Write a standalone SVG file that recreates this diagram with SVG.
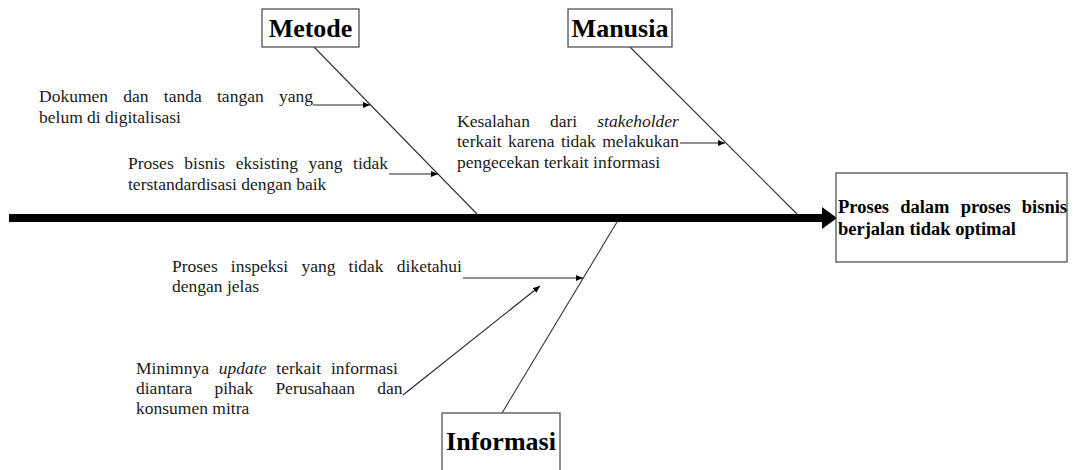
<svg xmlns="http://www.w3.org/2000/svg" width="1073" height="470" viewBox="0 0 1073 470">
<style>
.box{fill:#fff;stroke:#444;stroke-width:1.2}
.cat{font-family:"Liberation Serif",serif;font-weight:bold;font-size:26px;fill:#000}
.eff{font-family:"Liberation Serif",serif;font-weight:bold;font-size:18.5px;fill:#000}
.lbl{font-family:"Liberation Serif",serif;font-size:17.5px;fill:#1a1a1a}
.bone{stroke:#333;stroke-width:1.1;fill:none}
.arr{stroke:#222;stroke-width:1.1;fill:none;marker-end:url(#ah)}
.it{font-style:italic}
</style>
<defs>
<marker id="ah" markerUnits="userSpaceOnUse" markerWidth="8" markerHeight="6" refX="7" refY="3" orient="auto">
<path d="M0,0 L7,3 L0,6 Z" fill="#000"/>
</marker>
</defs>
<g id="connectors">
<rect x="9" y="214" width="814" height="8" fill="#000"/>
<polygon points="822,207 837,218 822,229" fill="#000"/>
<line class="bone" x1="314" y1="47" x2="477" y2="214"/>
<line class="bone" x1="630" y1="47" x2="797" y2="214"/>
<line class="bone" x1="617" y1="222" x2="502" y2="413"/>
<line class="arr" x1="313" y1="105" x2="370" y2="105"/>
<line class="arr" x1="389" y1="174" x2="438" y2="174"/>
<line class="arr" x1="680" y1="143" x2="725" y2="143"/>
<line class="arr" x1="463" y1="278" x2="583" y2="278"/>
<line class="arr" x1="403" y1="395" x2="540" y2="286"/>
</g>
<g id="metode">
<rect class="box" x="262" y="9" width="97" height="38"/>
<text class="cat" x="310.5" y="37" text-anchor="middle">Metode</text>
</g>
<g id="manusia">
<rect class="box" x="568" y="9" width="104" height="38"/>
<text class="cat" x="620" y="37" text-anchor="middle">Manusia</text>
</g>
<g id="informasi">
<rect class="box" x="442" y="413" width="118" height="70"/>
<text class="cat" x="501" y="450" text-anchor="middle">Informasi</text>
</g>
<g id="effect">
<rect class="box" x="836" y="173" width="231" height="89"/>
<text class="eff" x="838" y="213" word-spacing="6.5">Proses dalam proses bisnis</text>
<text class="eff" x="838" y="235">berjalan tidak optimal</text>
</g>
<g id="cause-dokumen">
<text class="lbl" x="39" y="102" word-spacing="10.9">Dokumen dan tanda tangan yang</text>
<text class="lbl" x="39" y="123">belum di digitalisasi</text>
</g>
<g id="cause-proses-bisnis">
<text class="lbl" x="128" y="169" word-spacing="6.2">Proses bisnis eksisting yang tidak</text>
<text class="lbl" x="128" y="190">terstandardisasi dengan baik</text>
</g>
<g id="cause-kesalahan">
<text class="lbl" x="457" y="127" word-spacing="15.7">Kesalahan dari <tspan class="it">stakeholder</tspan></text>
<text class="lbl" x="457" y="147" word-spacing="1.9">terkait karena tidak melakukan</text>
<text class="lbl" x="457" y="168">pengecekan terkait informasi</text>
</g>
<g id="cause-inspeksi">
<text class="lbl" x="172" y="272" word-spacing="8.8">Proses inspeksi yang tidak diketahui</text>
<text class="lbl" x="172" y="292">dengan jelas</text>
</g>
<g id="cause-update">
<text class="lbl" x="136" y="374" word-spacing="5.5">Minimnya <tspan class="it">update</tspan> terkait informasi</text>
<text class="lbl" x="136" y="394" word-spacing="17.7">diantara pihak Perusahaan dan</text>
<text class="lbl" x="136" y="414">konsumen mitra</text>
</g>
</svg>
